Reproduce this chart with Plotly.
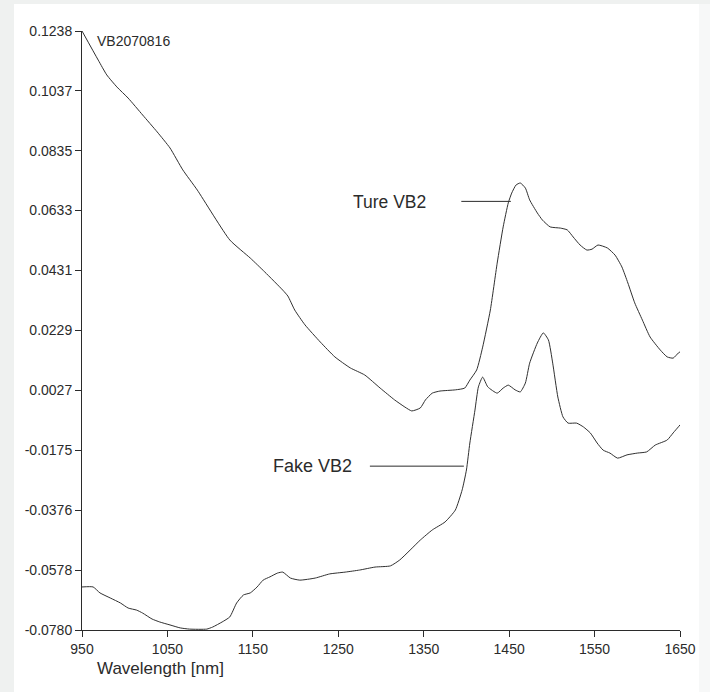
import plotly.graph_objects as go

# NIR absorbance spectra, 950-1650 nm
true_wl = [950, 969, 979, 991, 1004, 1021, 1038, 1053, 1068, 1085, 1123, 1147,
           1164, 1185, 1191, 1199, 1211, 1229, 1246, 1264, 1281, 1299, 1316,
           1328, 1336, 1346, 1352, 1360, 1369, 1387, 1398, 1404, 1412, 1419,
           1428, 1436, 1443, 1449, 1453, 1458, 1463, 1469, 1474, 1483, 1489,
           1498, 1510, 1518, 1525, 1533, 1541, 1547, 1554, 1565, 1574, 1582,
           1589, 1597, 1606, 1615, 1627, 1635, 1642, 1648, 1650]
true_abs = [0.1238, 0.1140, 0.1090, 0.1049, 0.1012, 0.0955, 0.0898, 0.0844,
            0.0770, 0.0702, 0.0534, 0.0473, 0.0426, 0.0365, 0.0345, 0.0298,
            0.0248, 0.0190, 0.0140, 0.0103, 0.0079, 0.0035, -0.0005, -0.0029,
            -0.0042, -0.0032, -0.0005, 0.0018, 0.0025, 0.0029, 0.0035, 0.0062,
            0.0096, 0.0173, 0.0298, 0.0456, 0.0578, 0.0659, 0.0692, 0.0719,
            0.0726, 0.0709, 0.0669, 0.0625, 0.0601, 0.0578, 0.0574, 0.0568,
            0.0544, 0.0517, 0.0500, 0.0503, 0.0517, 0.0507, 0.0483, 0.0443,
            0.0389, 0.0322, 0.0264, 0.0207, 0.0163, 0.0140, 0.0136, 0.0153,
            0.0157]

fake_wl = [950, 963, 971, 983, 995, 1004, 1014, 1021, 1032, 1041, 1053, 1065,
           1076, 1096, 1103, 1114, 1123, 1131, 1139, 1147, 1155, 1162, 1170,
           1179, 1185, 1194, 1205, 1223, 1240, 1258, 1275, 1293, 1311, 1322,
           1334, 1346, 1360, 1375, 1387, 1395, 1400, 1404, 1410, 1414, 1419,
           1425, 1436, 1443, 1449, 1457, 1463, 1469, 1474, 1483, 1490, 1496,
           1501, 1507, 1513, 1519, 1529, 1537, 1545, 1553, 1560, 1568, 1577,
           1588, 1600, 1611, 1621, 1635, 1642, 1648, 1650]
fake_abs = [-0.0635, -0.0635, -0.0655, -0.0672, -0.0689, -0.0706, -0.0713,
            -0.0723, -0.0743, -0.0753, -0.0763, -0.0773, -0.0777, -0.0777,
            -0.0770, -0.0753, -0.0736, -0.0689, -0.0662, -0.0655, -0.0635,
            -0.0612, -0.0601, -0.0588, -0.0585, -0.0605, -0.0612, -0.0605,
            -0.0591, -0.0585, -0.0578, -0.0568, -0.0564, -0.0544, -0.0511,
            -0.0477, -0.0443, -0.0416, -0.0376, -0.0308, -0.0241, -0.0150,
            -0.0039, 0.0039, 0.0072, 0.0039, 0.0018, 0.0035, 0.0045, 0.0029,
            0.0022, 0.0052, 0.0119, 0.0187, 0.0221, 0.0197, 0.0119, 0.0005,
            -0.0062, -0.0083, -0.0083, -0.0096, -0.0116, -0.0150, -0.0174,
            -0.0184, -0.0201, -0.0190, -0.0184, -0.0180, -0.0157, -0.0140,
            -0.0116, -0.0096, -0.0089]

x_ticks = [950, 1050, 1150, 1250, 1350, 1450, 1550, 1650]
y_ticks = [0.1238, 0.1037, 0.0835, 0.0633, 0.0431, 0.0229, 0.0027,
           -0.0175, -0.0376, -0.0578, -0.0780]
y_ticklabels = ["0.1238", "0.1037", "0.0835", "0.0633", "0.0431", "0.0229",
                "0.0027", "-0.0175", "-0.0376", "-0.0578", "-0.0780"]

sample_id = "VB2070816"
true_label = "Ture VB2"
fake_label = "Fake VB2"

FONT = "Liberation Sans, Arial, sans-serif"
INK = "#2b2b2b"
LINE = "#303030"

fig = go.Figure()
fig.add_trace(go.Scatter(x=true_wl, y=true_abs, mode="lines", name=true_label,
                         line=dict(color=LINE, width=1, shape="spline", smoothing=0.5)))
fig.add_trace(go.Scatter(x=fake_wl, y=fake_abs, mode="lines", name=fake_label,
                         line=dict(color=LINE, width=1, shape="spline", smoothing=0.5)))

# leader lines from labels to their curves
fig.add_shape(type="line", x0=1394, x1=1452, y0=0.0664, y1=0.0664,
              line=dict(color=INK, width=1))
fig.add_shape(type="line", x0=1287, x1=1397, y0=-0.0228, y1=-0.0228,
              line=dict(color=INK, width=1))

# white page panel over the grey surround, with a pale strip on the right
fig.add_shape(type="rect", xref="paper", yref="paper",
              x0=-0.1137, x1=1.0318, y0=-0.11, y1=1.0451,
              fillcolor="white", line=dict(width=0), layer="below")
fig.add_shape(type="rect", xref="paper", yref="paper",
              x0=1.0318, x1=1.06, y0=-0.11, y1=1.0451,
              fillcolor="#f7f8f8", line=dict(width=0), layer="below")

fig.add_annotation(x=1310, y=0.0662, text=true_label, showarrow=False,
                   font=dict(family=FONT, size=17.5, color=INK))
fig.add_annotation(x=1220, y=-0.0228, text=fake_label, showarrow=False,
                   font=dict(family=FONT, size=18, color=INK))
fig.add_annotation(x=965, y=0.1204, text=sample_id, showarrow=False,
                   xanchor="left", font=dict(family=FONT, size=14, color=INK))
fig.add_annotation(xref="paper", yref="paper", x=0.0217, y=-0.065,
                   text="Wavelength [nm]", showarrow=False, xanchor="left",
                   yanchor="middle", font=dict(family=FONT, size=17, color=INK))

axis_common = dict(showline=True, linecolor=INK, linewidth=1, ticks="outside",
                   ticklen=6, tickcolor=INK, tickwidth=1, showgrid=False,
                   zeroline=False, mirror=False,
                   tickfont=dict(family=FONT, size=14, color=INK))

fig.update_xaxes(range=[950, 1650], tickvals=x_ticks,
                 ticktext=[str(v) for v in x_ticks], **axis_common)
fig.update_yaxes(range=[-0.078, 0.1238], tickvals=y_ticks,
                 ticktext=y_ticklabels, **axis_common)

fig.update_layout(width=710, height=692, margin=dict(l=82, r=30, t=31, b=62),
                  paper_bgcolor="#eff1f0", plot_bgcolor="white",
                  showlegend=False)

fig.write_html("out.html")
